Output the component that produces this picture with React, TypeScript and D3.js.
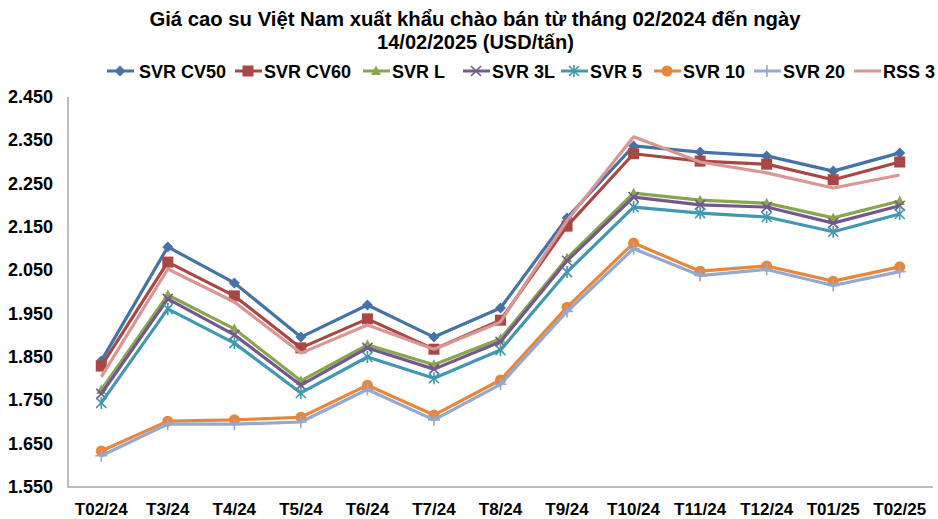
import React from "react";
import * as d3 from "d3";

const categories = ["T02/24","T3/24","T4/24","T5/24","T6/24","T7/24","T8/24","T9/24","T10/24","T11/24","T12/24","T01/25","T02/25"];
const yTicks = [1.55,1.65,1.75,1.85,1.95,2.05,2.15,2.25,2.35,2.45];
const yTickLabels = ["1.550","1.650","1.750","1.850","1.950","2.050","2.150","2.250","2.350","2.450"];

const svrCV50 = [1.841,2.104,2.021,1.896,1.970,1.896,1.963,2.171,2.337,2.323,2.314,2.279,2.321];
const svrCV60 = [1.829,2.069,1.991,1.871,1.938,1.868,1.935,2.152,2.319,2.302,2.295,2.259,2.300];
const svrL = [1.774,1.993,1.915,1.795,1.878,1.832,1.892,2.078,2.228,2.212,2.205,2.171,2.210];
const svr3L = [1.765,1.984,1.901,1.785,1.871,1.822,1.885,2.072,2.219,2.201,2.196,2.159,2.199];
const svr5 = [1.744,1.961,1.882,1.767,1.850,1.801,1.866,2.046,2.196,2.182,2.173,2.139,2.180];
const svr10 = [1.633,1.702,1.705,1.711,1.785,1.716,1.797,1.965,2.113,2.048,2.060,2.025,2.058];
const svr20 = [1.622,1.695,1.695,1.700,1.775,1.705,1.787,1.955,2.100,2.038,2.052,2.015,2.047];
const rss3 = [1.804,2.053,1.977,1.859,1.924,1.868,1.931,2.165,2.358,2.300,2.275,2.240,2.270];

const seriesNames = ["SVR CV50","SVR CV60","SVR L","SVR 3L","SVR 5","SVR 10","SVR 20","RSS 3"];
const seriesValues = [svrCV50, svrCV60, svrL, svr3L, svr5, svr10, svr20, rss3];
const seriesColors = ["#4572A7","#AA4643","#89A54E","#71588F","#4198AF","#E8873A","#93A9D0","#D99694"];
const seriesMarkers = ["diamond","square","triangle","x","star","circle","plus","none"];

const titleLine1 = "Giá cao su Việt Nam xuất khẩu chào bán từ tháng 02/2024 đến ngày";
const titleLine2 = "14/02/2025 (USD/tấn)";

const W = 938, H = 519;
const plot = { left: 68, right: 933, top: 97, bottom: 487 };
const FONT = "'Liberation Sans', Arial, sans-serif";

function Marker({ type, x, y, color }: { type: string; x: number; y: number; color: string }) {
  const s = 5;
  switch (type) {
    case "diamond":
      return <path d={`M${x},${y - 5.5}L${x + 5.5},${y}L${x},${y + 5.5}L${x - 5.5},${y}Z`} fill={color} />;
    case "square":
      return <rect x={x - 5.5} y={y - 5.5} width={11} height={11} fill={color} />;
    case "triangle":
      return <path d={`M${x},${y - 5.5}L${x + 5},${y + 4}L${x - 5},${y + 4}Z`} fill={color} />;
    case "x":
      return <path d={`M${x - s},${y - s}L${x + s},${y + s}M${x - s},${y + s}L${x + s},${y - s}`} stroke={color} strokeWidth={1.6} fill="none" />;
    case "star":
      return <path d={`M${x - s},${y - s}L${x + s},${y + s}M${x - s},${y + s}L${x + s},${y - s}M${x},${y - 6}L${x},${y + 6}`} stroke={color} strokeWidth={1.6} fill="none" />;
    case "circle":
      return <circle cx={x} cy={y} r={5.5} fill={color} />;
    case "plus":
      return <path d={`M${x - 6},${y}L${x + 6},${y}M${x},${y - 6}L${x},${y + 6}`} stroke={color} strokeWidth={1.6} fill="none" />;
    default:
      return null;
  }
}

export default function App() {
  const x = d3.scalePoint<string>().domain(categories).range([plot.left, plot.right]).padding(0.5);
  const y = d3.scaleLinear().domain([1.55, 2.45]).range([plot.bottom, plot.top]);
  const line = d3.line<number>().x((_, i) => x(categories[i])!).y((d) => y(d));

  const legendItems = [
    { l: 107, t: 139 },
    { l: 235, t: 264 },
    { l: 363, t: 392 },
    { l: 463, t: 492 },
    { l: 561, t: 590 },
    { l: 654, t: 683 },
    { l: 754, t: 783 },
    { l: 854, t: 883 },
  ];

  return (
    <svg width={W} height={H} style={{ position: "absolute", left: 0, top: 0, background: "#fff" }} fontFamily={FONT}>
      <rect width={W} height={H} fill="#fff" />
      <text x={475} y={26} textAnchor="middle" fontSize={20.3} fontWeight="bold" fill="#000">
        {titleLine1}
      </text>
      <text x={475.5} y={49} textAnchor="middle" fontSize={20} fontWeight="bold" fill="#000">
        {titleLine2}
      </text>

      {seriesNames.map((n, i) => {
        const it = legendItems[i];
        const cx = it.l + 13;
        return (
          <g key={n}>
            <line x1={it.l} x2={it.l + 27} y1={71} y2={71} stroke={seriesColors[i]} strokeWidth={3} />
            <Marker type={seriesMarkers[i]} x={cx} y={71} color={seriesColors[i]} />
            <text x={it.t} y={77.5} fontSize={18} fontWeight="bold" fill="#000">{n}</text>
          </g>
        );
      })}

      {yTicks.map((t, i) => (
        <text key={t} x={53} y={y(t) + 6} textAnchor="end" fontSize={18} fontWeight="bold" fill="#000">
          {yTickLabels[i]}
        </text>
      ))}
      {categories.map((c) => (
        <text key={c} x={x(c)!} y={515} textAnchor="middle" fontSize={17} fontWeight="bold" fill="#000">
          {c}
        </text>
      ))}

      <path d={`M${plot.left},${plot.top}V${plot.bottom}H${plot.right}`} stroke="#A6A6A6" strokeWidth={1.5} fill="none" />

      {seriesValues.map((vals, si) => (
        <g key={seriesNames[si]}>
          <path d={line(vals)!} stroke={seriesColors[si]} strokeWidth={3.2} fill="none" strokeLinejoin="round" />
          {vals.map((v, j) => (
            <Marker key={j} type={seriesMarkers[si]} x={x(categories[j])!} y={y(v)} color={seriesColors[si]} />
          ))}
        </g>
      ))}
    </svg>
  );
}
